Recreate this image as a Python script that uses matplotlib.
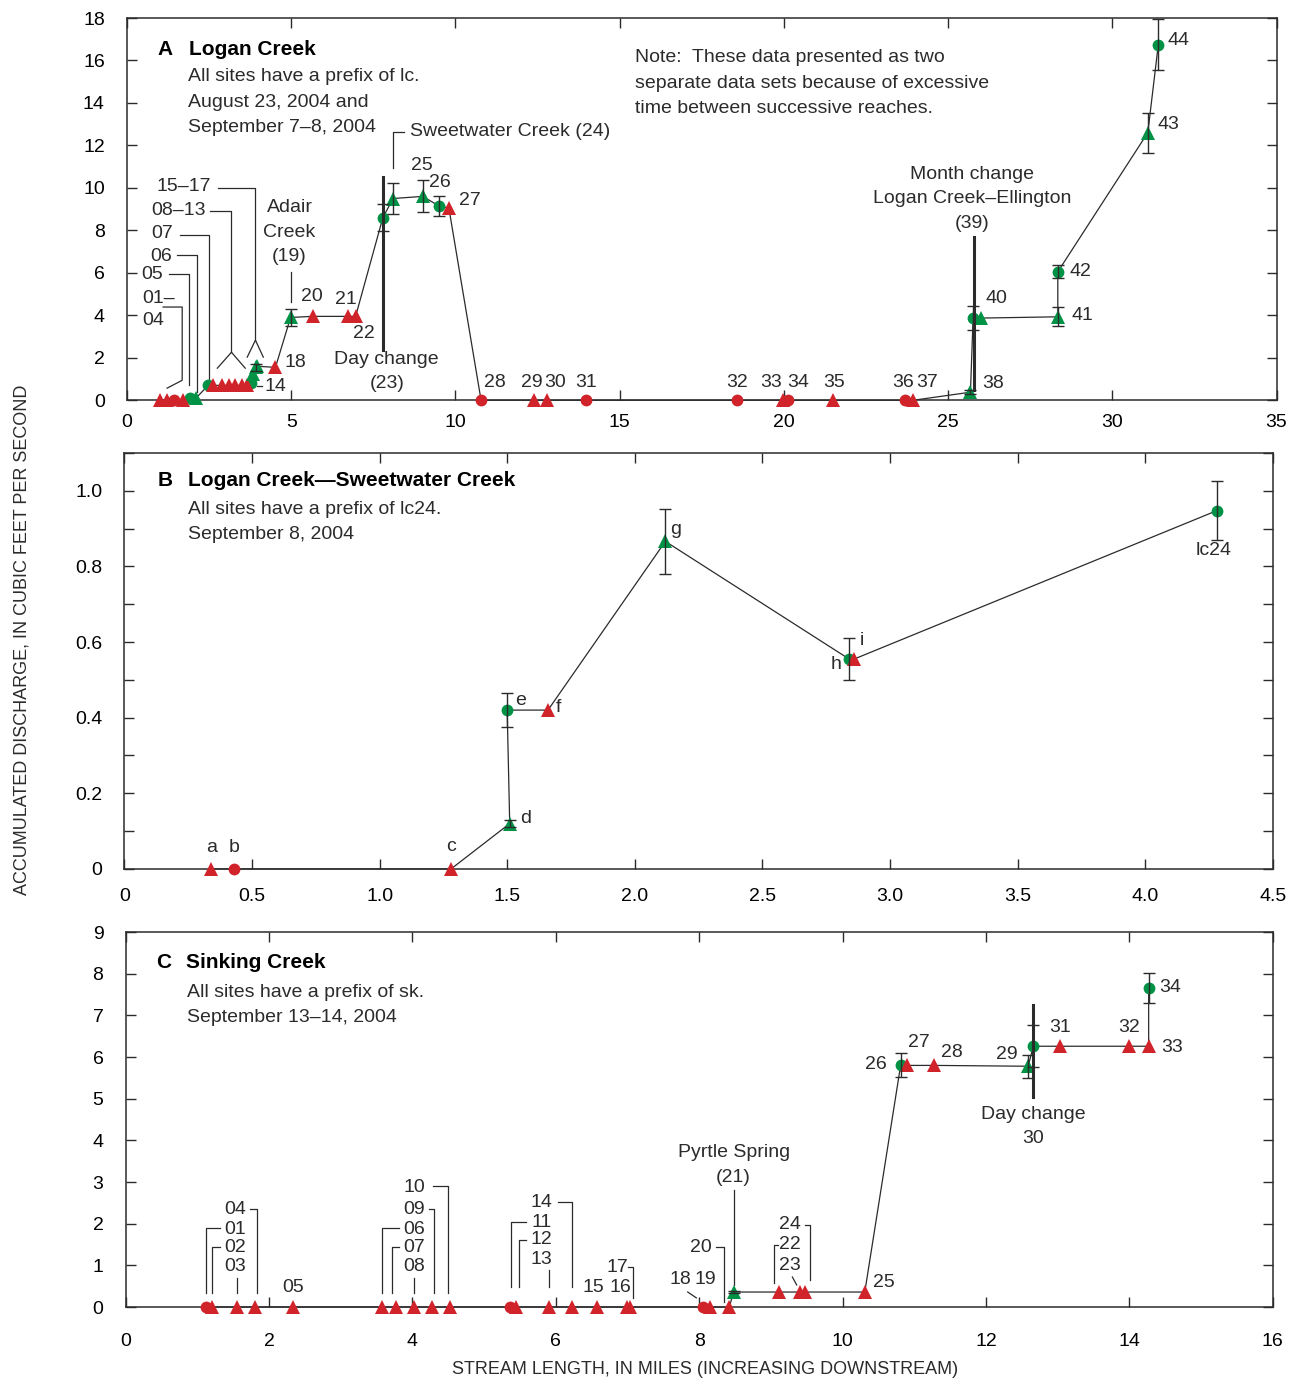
import numpy as np
import matplotlib
matplotlib.use("Agg")
import matplotlib.pyplot as plt
from matplotlib.ticker import MultipleLocator, FuncFormatter

plt.rcParams['font.family'] = ['Liberation Sans Narrow', 'Liberation Sans', 'DejaVu Sans']
plt.rcParams['font.size'] = 14

RED = '#d1232a'
GREEN = '#009245'
INK = '#2b2b2b'

# --- A: Logan Creek (sites lc01-lc44) ---
a_sites = ['01', '02', '03', '04', '05', '06', '07', '08', '09', '10', '11',
           '12', '13', '14', '15', '16', '17', '18', '19', '20', '21', '22',
           '23', '24', '25', '26', '27', '28', '29', '30', '31', '32', '33',
           '34', '35', '36', '37', '38', '39', '40', '41', '42', '43', '44']
a_miles = [1.00, 1.22, 1.43, 1.71, 1.92, 2.10, 2.47, 2.63, 2.90, 3.10, 3.30,
           3.50, 3.65, 3.76, 3.85, 3.92, 3.97, 4.52, 4.98, 5.65, 6.72, 6.96,
           7.79, 8.10, 9.00, 9.50, 9.80, 10.78, 12.40, 12.80, 13.98, 18.56,
           19.97, 20.12, 21.50, 23.70, 23.94, 25.68, 25.76, 26.00, 28.34,
           28.34, 31.08, 31.40]
a_flow = [0, 0, 0, 0, 0.1, 0.1, 0.7, 0.7, 0.7, 0.7, 0.7,
          0.7, 0.7, 0.8, 1.25, 1.55, 1.6, 1.55, 3.9, 3.95, 3.95, 3.95,
          8.6, 9.5, 9.6, 9.15, 9.05, 0, 0, 0, 0, 0,
          0, 0, 0, 0, 0, 0.38, 3.87, 3.87, 3.93,
          6.05, 12.6, 16.75]
a_kind = ['rt', 'rt', 'rc', 'rt', 'gc', 'gt', 'gc', 'rt', 'rt', 'rt', 'rt',
          'rt', 'rt', 'gc', 'gt', 'gt', 'gt', 'rt', 'gt', 'rt', 'rt', 'rt',
          'gc', 'gt', 'gt', 'gc', 'rt', 'rc', 'rt', 'rt', 'rc', 'rc',
          'rt', 'rc', 'rt', 'rc', 'rt', 'gt', 'gc', 'gt', 'gt',
          'gc', 'gt', 'gc']
a_err = {'16': 0.15, '19': 0.4, '23': 0.65, '24': 0.75, '25': 0.75,
         '26': 0.45, '38': 0.08, '39': 0.55, '41': 0.45, '42': 0.3,
         '43': 0.95, '44': 1.2}

# --- B: Logan Creek-Sweetwater Creek (sites lc24a-lc24) ---
b_sites = ['a', 'b', 'c', 'd', 'e', 'f', 'g', 'h', 'i', 'lc24']
b_miles = [0.34, 0.43, 1.28, 1.51, 1.50, 1.66, 2.12, 2.84, 2.86, 4.28]
b_flow = [0, 0, 0, 0.12, 0.42, 0.42, 0.866, 0.555, 0.555, 0.947]
b_kind = ['rt', 'rc', 'rt', 'gt', 'gc', 'rt', 'gt', 'gc', 'rt', 'gc']
b_err = {'d': 0.01, 'e': 0.045, 'g': 0.085, 'h': 0.055, 'lc24': 0.078}

# --- C: Sinking Creek (sites sk01-sk34) ---
c_sites = ['%02d' % i for i in range(1, 35)]
c_miles = [1.12, 1.21, 1.55, 1.81, 2.33, 3.58, 3.77, 4.02, 4.27, 4.53,
           5.36, 5.45, 5.91, 6.22, 6.58, 6.99, 7.04, 8.05, 8.15, 8.42,
           8.48, 9.11, 9.40, 9.48, 10.31, 10.81, 10.90, 11.28, 12.59, 12.66,
           13.04, 13.99, 14.27, 14.27]
c_flow = [0] * 20 + [0.36, 0.36, 0.36, 0.36, 0.36, 5.8, 5.8, 5.8, 5.78,
                     6.26, 6.26, 6.26, 6.26, 7.66]
c_kind = ['rc'] + ['rt'] * 9 + ['rc'] + ['rt'] * 6 + ['rc', 'rt', 'rt', 'gt',
          'rt', 'rt', 'rt', 'rt', 'gc', 'rt', 'rt', 'gt', 'gc', 'rt', 'rt',
          'rt', 'gc']
c_err = {'21': 0.03, '26': 0.29, '29': 0.28, '30': 0.5, '34': 0.37}

# circles go down first so triangles sit on top of them
STYLE = {'rc': ('o', RED, 8.5), 'gc': ('o', GREEN, 8.5),
         'rt': ('^', RED, 10), 'gt': ('^', GREEN, 10)}


def draw_series(ax, sites, miles, flow, kind, err):
    miles = np.asarray(miles)
    flow = np.asarray(flow)
    ax.plot(miles, flow, color=INK, lw=0.9, zorder=2, clip_on=False)
    kind = np.asarray(kind)
    for k, (m, c, ms) in STYLE.items():
        sel = kind == k
        ax.plot(miles[sel], flow[sel], ls='none', marker=m, color=c, ms=ms,
                mew=0, zorder=3, clip_on=False)
    idx = [sites.index(s) for s in err]
    ax.errorbar(miles[idx], flow[idx], yerr=list(err.values()), fmt='none',
                ecolor=INK, elinewidth=1, capsize=4, capthick=1, zorder=4)


def put_labels(ax, labels):
    for txt, x, y, ha in labels:
        ax.text(x, y, txt, ha=ha, va='center', color=INK, linespacing=1.55,
                zorder=5)


def put_leaders(ax, leaders, lw=0.9):
    for pts in leaders:
        xs, ys = zip(*pts)
        ax.plot(xs, ys, color=INK, lw=lw, zorder=2, clip_on=False)


def style_axes(ax, xmax, xstep, ymax, ystep, xpad, yminor=None, fmt=None):
    ax.set_xlim(0, xmax)
    ax.set_ylim(0, ymax)
    ax.xaxis.set_major_locator(MultipleLocator(xstep))
    ax.yaxis.set_major_locator(MultipleLocator(ystep))
    if yminor:
        ax.yaxis.set_minor_locator(MultipleLocator(yminor))
    if fmt:
        ax.xaxis.set_major_formatter(FuncFormatter(fmt))
        ax.yaxis.set_major_formatter(FuncFormatter(fmt))
    ax.tick_params(which='both', direction='in', length=7, width=1,
                   top=True, right=True, color=INK, labelsize=14)
    ax.tick_params(axis='y', pad=16)
    ax.tick_params(axis='x', pad=xpad)
    for sp in ax.spines.values():
        sp.set_color(INK)
        sp.set_linewidth(1.1)


fig = plt.figure(figsize=(12.96, 13.85), dpi=100)
axA = fig.add_axes([0.098, 0.711, 0.887, 0.276])
axB = fig.add_axes([0.096, 0.3726, 0.886, 0.3004])
axC = fig.add_axes([0.097, 0.0563, 0.885, 0.2707])

# panel A
style_axes(axA, 35, 5, 18, 2, xpad=10)
draw_series(axA, a_sites, a_miles, a_flow, a_kind, a_err)
axA.plot([7.79, 7.79], [2.36, 10.5], color=INK, lw=2.2, zorder=4)
axA.plot([25.79, 25.79], [0.47, 7.7], color=INK, lw=2.2, zorder=4)
axA.text(0.92, 16.5, 'A', fontweight='bold', fontsize=15, va='center')
axA.text(1.89, 16.5, 'Logan Creek', fontweight='bold', fontsize=15, va='center')
put_labels(axA, [
    ('All sites have a prefix of lc.', 1.86, 15.24, 'left'),
    ('August 23, 2004 and', 1.86, 14.0, 'left'),
    ('September 7\u20138, 2004', 1.86, 12.83, 'left'),
    ('Note:  These data presented as two', 15.48, 16.13, 'left'),
    ('separate data sets because of excessive', 15.48, 14.9, 'left'),
    ('time between successive reaches.', 15.48, 13.73, 'left'),
    ('15\u201317', 2.56, 10.05, 'right'),
    ('08\u201313', 2.41, 8.92, 'right'),
    ('07', 1.40, 7.83, 'right'),
    ('06', 1.37, 6.79, 'right'),
    ('05', 1.10, 5.90, 'right'),
    ('01\u2013', 0.46, 4.81, 'left'),
    ('04', 0.46, 3.77, 'left'),
    ('14', 4.18, 0.66, 'left'),
    ('18', 4.79, 1.79, 'left'),
    ('Adair\nCreek\n(19)', 4.95, 7.92, 'center'),
    ('20', 5.62, 4.9, 'center'),
    ('21', 6.66, 4.76, 'center'),
    ('22', 7.21, 3.16, 'center'),
    ('Day change\n(23)', 7.91, 1.37, 'center'),
    ('Sweetwater Creek (24)', 8.61, 12.64, 'left'),
    ('25', 8.98, 11.04, 'center'),
    ('26', 9.53, 10.24, 'center'),
    ('27', 10.1, 9.39, 'left'),
    ('28', 10.87, 0.85, 'left'),
    ('29', 12.34, 0.85, 'center'),
    ('30', 13.04, 0.85, 'center'),
    ('31', 13.98, 0.85, 'center'),
    ('32', 18.56, 0.85, 'center'),
    ('33', 19.6, 0.85, 'center'),
    ('34', 20.43, 0.85, 'center'),
    ('35', 21.53, 0.85, 'center'),
    ('36', 23.63, 0.85, 'center'),
    ('37', 24.37, 0.85, 'center'),
    ('38', 26.05, 0.8, 'left'),
    ('Month change\nLogan Creek\u2013Ellington\n(39)', 25.74, 9.48, 'center'),
    ('40', 26.14, 4.81, 'left'),
    ('41', 28.76, 4.0, 'left'),
    ('42', 28.7, 6.08, 'left'),
    ('43', 31.39, 12.97, 'left'),
    ('44', 31.69, 16.93, 'left'),
])
put_leaders(axA, [
    [(2.78, 10.0), (3.91, 10.0), (3.91, 2.83)],
    [(3.66, 2.03), (3.91, 2.83), (4.15, 2.03)],
    [(2.53, 8.92), (3.18, 8.92), (3.18, 2.26)],
    [(2.75, 1.51), (3.18, 2.26), (3.6, 1.51)],
    [(1.62, 7.78), (2.5, 7.78), (2.5, 0.94)],
    [(1.53, 6.84), (2.14, 6.84), (2.14, 0.38)],
    [(1.28, 5.94), (1.89, 5.94), (1.89, 0.71)],
    [(1.10, 4.39), (1.68, 4.39), (1.68, 0.94), (1.22, 0.57)],
    [(3.97, 0.66), (4.12, 0.66)],
    [(4.98, 6.04), (4.98, 4.62)],
    [(8.09, 10.94), (8.09, 12.64), (8.43, 12.64)],
])

# panel B
fmt_b = lambda v, pos: '0' if abs(v) < 1e-9 else '%.1f' % v
style_axes(axB, 4.5, 0.5, 1.1, 0.2, xpad=14, yminor=0.1, fmt=fmt_b)
draw_series(axB, b_sites, b_miles, b_flow, b_kind, b_err)
axB.text(0.13, 1.026, 'B', fontweight='bold', fontsize=15, va='center')
axB.text(0.25, 1.026, 'Logan Creek\u2014Sweetwater Creek', fontweight='bold',
         fontsize=15, va='center')
put_labels(axB, [
    ('All sites have a prefix of lc24.', 0.25, 0.95, 'left'),
    ('September 8, 2004', 0.25, 0.884, 'left'),
    ('a', 0.34, 0.058, 'center'),
    ('b', 0.43, 0.058, 'center'),
    ('c', 1.28, 0.06, 'center'),
    ('d', 1.55, 0.134, 'left'),
    ('e', 1.53, 0.445, 'left'),
    ('f', 1.69, 0.426, 'left'),
    ('g', 2.14, 0.897, 'left'),
    ('h', 2.81, 0.54, 'right'),
    ('i', 2.88, 0.603, 'left'),
    ('lc24', 4.27, 0.842, 'center'),
])

# panel C
style_axes(axC, 16, 2, 9, 1, xpad=19)
draw_series(axC, c_sites, c_miles, c_flow, c_kind, c_err)
axC.plot([12.66, 12.66], [5.04, 7.25], color=INK, lw=2.2, zorder=4)
axC.text(0.43, 8.28, 'C', fontweight='bold', fontsize=15, va='center')
axC.text(0.84, 8.28, 'Sinking Creek', fontweight='bold', fontsize=15,
         va='center')
put_labels(axC, [
    ('All sites have a prefix of sk.', 0.86, 7.56, 'left'),
    ('September 13\u201314, 2004', 0.86, 6.94, 'left'),
    ('04', 1.53, 2.33, 'center'),
    ('01', 1.53, 1.85, 'center'),
    ('02', 1.53, 1.44, 'center'),
    ('03', 1.53, 0.98, 'center'),
    ('05', 2.33, 0.48, 'center'),
    ('10', 4.02, 2.88, 'center'),
    ('09', 4.02, 2.33, 'center'),
    ('06', 4.02, 1.85, 'center'),
    ('07', 4.02, 1.44, 'center'),
    ('08', 4.02, 0.98, 'center'),
    ('14', 5.8, 2.52, 'center'),
    ('11', 5.8, 2.04, 'center'),
    ('12', 5.8, 1.61, 'center'),
    ('13', 5.8, 1.13, 'center'),
    ('15', 6.52, 0.48, 'center'),
    ('16', 6.9, 0.48, 'center'),
    ('17', 6.86, 0.96, 'center'),
    ('18', 7.74, 0.65, 'center'),
    ('19', 8.09, 0.65, 'center'),
    ('20', 8.02, 1.44, 'center'),
    ('Pyrtle Spring\n(21)', 8.48, 3.41, 'center'),
    ('24', 9.27, 1.97, 'center'),
    ('22', 9.27, 1.49, 'center'),
    ('23', 9.27, 1.0, 'center'),
    ('25', 10.42, 0.6, 'left'),
    ('26', 10.61, 5.81, 'right'),
    ('27', 11.06, 6.34, 'center'),
    ('28', 11.52, 6.12, 'center'),
    ('29', 12.29, 6.05, 'center'),
    ('31', 13.04, 6.72, 'center'),
    ('32', 14.0, 6.72, 'center'),
    ('33', 14.45, 6.24, 'left'),
    ('34', 14.42, 7.68, 'left'),
    ('Day change\n30', 12.66, 4.34, 'center'),
])
put_leaders(axC, [
    [(1.74, 2.35), (1.83, 2.35), (1.83, 0.34)],
    [(1.31, 1.9), (1.12, 1.9), (1.12, 0.34)],
    [(1.31, 1.44), (1.21, 1.44), (1.21, 0.34)],
    [(1.55, 0.7), (1.55, 0.34)],
    [(4.29, 2.9), (4.49, 2.9), (4.49, 0.34)],
    [(4.23, 2.35), (4.3, 2.35), (4.3, 0.34)],
    [(3.81, 1.9), (3.58, 1.9), (3.58, 0.34)],
    [(3.81, 1.44), (3.72, 1.44), (3.72, 0.34)],
    [(4.02, 0.7), (4.02, 0.34)],
    [(6.03, 2.52), (6.23, 2.52), (6.23, 0.48)],
    [(5.58, 2.04), (5.38, 2.04), (5.38, 0.48)],
    [(5.58, 1.61), (5.48, 1.61), (5.48, 0.48)],
    [(5.9, 0.89), (5.9, 0.48)],
    [(7.0, 0.96), (7.07, 0.96), (7.07, 0.22)],
    [(7.84, 0.36), (7.96, 0.22)],
    [(8.24, 1.44), (8.35, 1.44), (8.35, 0.12)],
    [(8.48, 2.81), (8.48, 0.53)],
    [(9.47, 1.97), (9.54, 1.97), (9.54, 0.65)],
    [(9.1, 1.49), (9.05, 1.49), (9.05, 0.58)],
    [(9.3, 0.72), (9.36, 0.53)],
])

fig.text(0.017, 0.538, 'ACCUMULATED DISCHARGE, IN CUBIC FEET PER SECOND',
         rotation=90, ha='center', va='center', fontsize=13, color=INK)
fig.text(0.544, 0.011, 'STREAM LENGTH, IN MILES (INCREASING DOWNSTREAM)',
         ha='center', va='center', fontsize=13, color=INK)

fig.savefig('out.png', dpi=100)
